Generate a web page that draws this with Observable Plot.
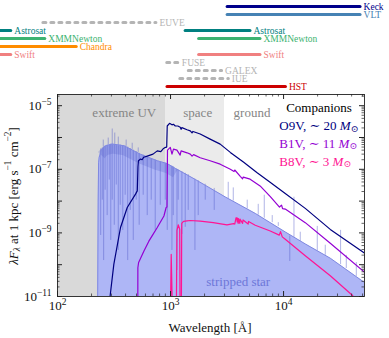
<!DOCTYPE html>
<html><head><meta charset="utf-8">
<script src="https://cdn.jsdelivr.net/npm/d3@7"></script>
<script src="https://cdn.jsdelivr.net/npm/@observablehq/plot@0.6"></script>
<style>
html,body{margin:0;padding:0;background:#fff;}
#chart{width:389px;height:338px;overflow:hidden;}
#chart svg{display:block;}
</style></head><body><div id="chart"></div>
<script>
// ---------------- DATA ----------------
// telescope coverage (top panel)
const instNames = ["Keck","VLT","EUVE","Astrosat","XMMNewton","Chandra","Swift","FUSE","GALEX","IUE","HST"];
const segInst = ["Keck","VLT","EUVE","Astrosat","Astrosat","XMMNewton","XMMNewton","Chandra","Swift","Swift","FUSE","GALEX","IUE","HST"];
const segLo   = [3200, 3200, 75, 1, 1360, 1, 1790, 1, 1, 1790, 935, 1450, 1220, 940];
const segHi   = [48000, 48000, 750, 39, 5100, 78, 6250, 148, 39, 6250, 1185, 2860, 3280, 10500];
const dashedInst = ["EUVE","FUSE","GALEX","IUE"];

// wavelength regions
const regionName = ["extreme UV","space","ground"];
const regionLo = [100, 912, 3000];
const regionHi = [912, 3000, 52000];
const regionLabelWave = [390, 1740, 5260];

// stripped star continuum (Å, erg s^-1 cm^-2)
const ssWave = [226, 229, 231, 234, 244, 264, 305, 389, 540, 763, 935, 1102, 1655, 3050, 5620, 10350, 15560, 25900, 52000];
const ssFlux = [1e-12, 1e-8, 1.6e-7, 2.4e-7, 4.0e-7, 5.4e-7, 6.2e-7, 5.5e-7, 3.0e-7, 1.86e-7, 1.51e-7, 1.07e-7, 4.8e-8, 1.35e-8, 4.1e-9, 1.07e-9, 4.5e-10, 1.6e-10, 2.75e-11];

// stripped star spectral lines: wavelength, continuum level, line tip
const lineWave = [241,249,256,264,275,287,296,305,318,331,345,359,378,397,418,440,468,497,528,573,622,675,732,811,
  898,935,1029,1057,1140,1170,1261,1349,1434,1644,1758,2028,2436,
  254,281,305,321,345,405,458,518,
  3240,3590,4770,5970,6750,7940,8980,12360,14050,19870,23390,31950,35880,44000,11350];
const lineFrom = [4.4e-7,4.7e-7,5.0e-7,5.4e-7,5.8e-7,6.0e-7,6.2e-7,6.2e-7,6.1e-7,6.0e-7,5.9e-7,5.8e-7,5.6e-7,5.4e-7,5.0e-7,4.5e-7,4.0e-7,3.6e-7,3.2e-7,2.8e-7,2.4e-7,2.15e-7,1.95e-7,1.7e-7,
  1.55e-7,1.5e-7,1.25e-7,1.2e-7,1.0e-7,9.5e-8,8.5e-8,7.5e-8,6.8e-8,4.9e-8,4.4e-8,3.4e-8,2.5e-8,
  5.0e-7,5.9e-7,6.2e-7,6.1e-7,5.9e-7,5.3e-7,4.2e-7,3.4e-7,
  1.2e-8,1.0e-8,5.7e-9,3.6e-9,2.9e-9,2.1e-9,1.6e-9,7.2e-10,5.4e-10,2.7e-10,1.96e-10,1.0e-10,7.6e-11,4.3e-11,8.0e-10];
const lineTo = [8.3e-10,1.07e-8,1.35e-10,2.2e-8,3.5e-9,4.6e-8,5.8e-10,1.07e-8,1.74e-9,3.2e-8,2.8e-10,7.4e-9,1.2e-9,1.53e-8,1.35e-10,5.1e-9,5.8e-10,1.07e-8,1.74e-9,1.53e-8,3.5e-9,1.07e-8,1.2e-9,7.4e-9,
  1.07e-8,1.2e-9,2.8e-10,3.5e-9,6.6e-11,1.07e-8,9.0e-10,1.5e-9,5.1e-9,2.8e-10,3.5e-9,1.07e-8,5.1e-9,
  8.3e-7,9.6e-7,1.85e-6,1.38e-6,1.03e-6,8.3e-7,6.6e-7,4.7e-7,
  3.9e-8,2.6e-8,1.07e-8,7.9e-9,1.53e-8,3.5e-9,2.1e-9,1.32e-8,1.05e-9,1.6e-9,4.1e-10,1.2e-9,1.96e-10,1.17e-10,1.26e-10];

// companions
const o9vWave = [289,291,315,361,414,490,508,515,520,544,560,580,622,700,763,820,860,903,925,935,980,1030,1060,1102,1160,1219,1240,1260,1400,1495,1550,1580,1830,2240,2750,3380,4440,5800,7600,10350,15560,25900,52000];
const o9vFlux = [5e-12,9.3e-12,1.02e-10,1.48e-9,6.3e-9,1.66e-8,2.1e-8,1.2e-7,1.86e-7,2.1e-7,2.0e-7,2.4e-7,2.6e-7,3.0e-7,3.8e-7,3.6e-7,4.4e-7,4.9e-7,5.0e-7,2.3e-6,2.8e-6,2.5e-6,2.6e-6,2.3e-6,2.3e-6,2.1e-6,1.8e-6,2.05e-6,1.75e-6,1.62e-6,1.4e-6,1.55e-6,1.29e-6,8.9e-7,6.2e-7,3.4e-7,1.66e-7,7.9e-8,3.9e-8,1.74e-8,5.9e-9,1.29e-9,2.3e-10];

const b1vWave = [510,513,514,522,582,643,700,763,874,914,930,940,995,1030,1062,1140,1216,1240,1400,1495,1550,1600,1830,2240,2750,3380,3646,3700,4140,4340,4400,5060,6200,7600,9200,9600,9800,10350,15560,25900,52000];
const b1vFlux = [1e-12,1e-12,8e-11,1.17e-10,2.7e-10,5.5e-10,9e-10,1.48e-9,3.4e-9,6.3e-9,6.5e-9,4.0e-7,4.9e-7,3.0e-7,4.3e-7,4.0e-7,2.8e-7,3.8e-7,3.3e-7,3.0e-7,2.6e-7,2.9e-7,2.3e-7,1.86e-7,1.45e-7,1.0e-7,8.5e-8,9.5e-8,6.0e-8,5.0e-8,5.7e-8,4.9e-8,3.0e-8,1.41e-8,6.5e-9,7.5e-9,5.8e-9,5.6e-9,2.1e-9,4.7e-10,5.8e-11];

const b8vWave = [994,1014,1046,1123,1140,1170,1206,1216,1245,1256,1303,1400,1495,1830,2388,3156,3610,3700,3800,3850,3890,3920,3970,4000,4101,4130,4340,4380,4861,4900,5617,7626,9160,9400,9740,10350,15560,25900,40550,46000];
const b8vFlux = [1e-12,2.1e-10,1e-12,1e-12,1.2e-9,1.8e-9,1.3e-9,1e-12,1e-12,2.0e-9,2.3e-9,2.4e-9,2.45e-9,2.35e-9,2.1e-9,1.78e-9,1.95e-9,1.9e-9,3.0e-9,3.0e-9,2.2e-9,2.9e-9,2.0e-9,2.8e-9,2.0e-9,2.7e-9,2.0e-9,2.55e-9,1.9e-9,2.3e-9,1.74e-9,1.15e-9,8.5e-10,1.1e-9,7.5e-10,6.3e-10,1.9e-10,4.5e-11,1.1e-11,6e-12];

const companionNames = ["O9V","B1V","B8V"];
const companionMass = ["20","11","3"];
const labelStripped = {text: "stripped star", wave: 3970, flux: 2.8e-11};

// axis ticks and labels
const xTickValues = [100, 1000, 10000];
const xTickExp = ["2","3","4"];
const yTickValues = [1e-11, 1e-9, 1e-7, 1e-5];
const yTickExp = ["−11","−9","−7","−5"];

// ---------------- STYLE / LAYOUT ----------------
const W = 389, TOPH = 94, MAINH = 244;
const ML = 57, MR = 25, MB = 42, MT = 0;
const FH = MAINH - MT - MB, FW = W - ML - MR;
const xDomain = [100, 52000];
const yDomain = [1e-11, 2.25e-5];
const SERIF = "Liberation Serif, DejaVu Serif, serif";
const instColor = {Keck:"#00008b", VLT:"#4682b4", EUVE:"#b4b4b4", Astrosat:"#008080", XMMNewton:"#3cb371",
  Chandra:"#ff8c00", Swift:"#f08080", FUSE:"#b4b4b4", GALEX:"#b4b4b4", IUE:"#b4b4b4", HST:"#cc0000"};
const regionFill = {"extreme UV":"#d9d9d9", "space":"#ebebeb", "ground":"none"};
const compColor = {O9V:"#000080", B1V:"#9400d3", B8V:"#ff1493"};

// ---------------- BUILD TABLES ----------------
const segs = segInst.map((s,i)=>({inst:s, lo:segLo[i], hi:segHi[i]}));
const regions = regionName.map((n,i)=>({name:n, lo:regionLo[i], hi:regionHi[i], lab:regionLabelWave[i]}));
const stripped = ssWave.map((w,i)=>({wave:w, flux:ssFlux[i]}));
const lines = lineWave.map((w,i)=>({wave:w, from:lineFrom[i], to:lineTo[i]}));
const mk = (W_,F_)=>W_.map((w,i)=>({wave:w, flux:F_[i]}));
const o9v = mk(o9vWave,o9vFlux), b1v = mk(b1vWave,b1vFlux), b8v = mk(b8vWave,b8vFlux);

const xMinor = [];
for (const d of [100,1000,10000]) for (let k=2;k<=9;k++) if (k*d < xDomain[1]) xMinor.push(k*d);
const yMajor = [], yMinor = [];
for (let e=-11;e<=-5;e++){ yMajor.push(Math.pow(10,e)); for(let k=2;k<=9;k++){const v=k*Math.pow(10,e); if(v<yDomain[1]) yMinor.push(v);} }

// ---------------- TOP PANEL ----------------
const topPlot = Plot.plot({
  width: W, height: TOPH, marginLeft: ML, marginRight: MR, marginTop: 0, marginBottom: 0,
  x: {type:"log", domain: xDomain, axis: null},
  y: {type:"point", domain: instNames, range:[5.3, 86.7], padding: 0, axis: null},
  color: {type:"identity"},
  style: {fontFamily: SERIF, fontSize: "9.5px", background: "white"},
  marks: [
    Plot.ruleY(segs.filter(d=>!dashedInst.includes(d.inst)), {y:"inst", x1:"lo", x2:"hi", stroke:d=>instColor[d.inst], strokeWidth:3, strokeLinecap:"round"}),
    Plot.ruleY(segs.filter(d=>dashedInst.includes(d.inst)), {y:"inst", x1:"lo", x2:"hi", stroke:d=>instColor[d.inst], strokeWidth:3, strokeLinecap:"round", strokeDasharray:"3,5"}),
    Plot.text(segs, {x:"hi", y:"inst", text:"inst", dx:3, textAnchor:"start", fill:d=>instColor[d.inst], fontFamily: SERIF, fontSize: 9.5})
  ]
});

// ---------------- MAIN PANEL ----------------
const tickStroke = "#222";
const mainPlot = Plot.plot({
  width: W, height: MAINH, marginLeft: ML, marginRight: MR, marginTop: MT, marginBottom: MB,
  x: {type:"log", domain: xDomain, label: null},
  y: {type:"log", domain: yDomain, label: null},
  color: {type:"identity"},
  style: {fontFamily: SERIF, fontSize: "13px", background: "white", color: "#111"},
  marks: [
    Plot.rect(regions.filter(d=>regionFill[d.name]!=="none"), {x1:"lo", x2:"hi", fill:d=>regionFill[d.name]}),
    Plot.areaY(stripped, {x:"wave", y1: yDomain[0], y2:"flux", fill:"#aeb6f6", clip:true}),
    // dense-line darkening just under the EUV/FUV continuum
    Plot.line(stripped.filter(d=>d.wave>=244 && d.wave<=1102), {x:"wave", y:"flux", dy:5, stroke:"#5a63cc", strokeOpacity:0.28, strokeWidth:9, strokeLinecap:"butt", clip:true}),
    Plot.ruleX(lines, {x:"wave", y1:"from", y2:"to", stroke:"#4c56c6", strokeOpacity:0.55, strokeWidth:0.8, clip:true}),
    Plot.line(stripped, {x:"wave", y:"flux", stroke:"#7f88e0", strokeWidth:1, clip:true}),
    Plot.line(b8v, {x:"wave", y:"flux", stroke:compColor.B8V, strokeWidth:1.2, clip:true}),
    Plot.line(b1v, {x:"wave", y:"flux", stroke:compColor.B1V, strokeWidth:1.2, clip:true}),
    Plot.line(o9v, {x:"wave", y:"flux", stroke:compColor.O9V, strokeWidth:1.2, clip:true}),
    Plot.text(regions, {x:"lab", frameAnchor:"top", dy:13, text:"name", fill:"#858585", fontSize:13, fontFamily: SERIF}),
    Plot.text([labelStripped], {x:"wave", y:"flux", text:"text", fill:"#6d76d8", fontSize:13, fontFamily: SERIF}),
    // inward ticks
    Plot.tickX(xTickValues, {x:d=>d, stroke:tickStroke, insetTop:FH-5}),
    Plot.tickX(xTickValues, {x:d=>d, stroke:tickStroke, insetBottom:FH-5}),
    Plot.tickX(xMinor, {x:d=>d, stroke:tickStroke, strokeWidth:0.7, insetTop:FH-2.5}),
    Plot.tickX(xMinor, {x:d=>d, stroke:tickStroke, strokeWidth:0.7, insetBottom:FH-2.5}),
    Plot.tickY(yMajor, {y:d=>d, stroke:tickStroke, insetRight:FW-5}),
    Plot.tickY(yMajor, {y:d=>d, stroke:tickStroke, insetLeft:FW-5}),
    Plot.tickY(yMinor, {y:d=>d, stroke:tickStroke, strokeWidth:0.7, insetRight:FW-2.5}),
    Plot.tickY(yMinor, {y:d=>d, stroke:tickStroke, strokeWidth:0.7, insetLeft:FW-2.5}),
    Plot.axisX({anchor:"bottom", ticks:xTickValues, tickSize:0, tickPadding:4, tickFormat:d=>"10^"+xTickExp[xTickValues.indexOf(d)], fontSize:13, fontFamily: SERIF, label:null}),
    Plot.axisY({anchor:"left", ticks:yTickValues, tickSize:0, tickPadding:6, tickFormat:d=>"10^"+yTickExp[yTickValues.indexOf(d)], fontSize:13, fontFamily: SERIF, label:null}),
    Plot.frame({stroke:"#222", strokeWidth:0.9})
  ]
});

// superscript tick labels
d3.select(mainPlot).selectAll("text").each(function(){
  const t = this.textContent; const m = /^10\^(.+)$/.exec(t);
  if (!m) return;
  const sel = d3.select(this); sel.text("10");
  sel.append("tspan").attr("dy","-5").attr("font-size","9.5px").text(m[1]);
});

// rich text helper: parts [{t, sup, sub, it}]
function rich(g, x, y, parts, opts) {
  const t = g.append("text").attr("x", x).attr("y", y)
    .attr("font-size", opts.size+"px")
    .attr("fill", opts.fill || "#111").attr("text-anchor", opts.anchor || "start")
    .attr("dominant-baseline", "central")
    .style("font-family", SERIF);
  if (opts.transform) t.attr("transform", opts.transform).attr("x", 0).attr("y", 0);
  let shift = 0;
  for (const p of parts) {
    const s = t.append("tspan").text(p.t);
    let target = 0;
    if (p.sup) target = -opts.size*0.42;
    if (p.sub) target = opts.size*0.28;
    if (target !== shift) { s.attr("dy", target - shift); shift = target; }
    if (p.sup || p.sub) s.attr("font-size", (opts.size*0.72)+"px");
    if (p.it) s.attr("font-style", "italic");
  }
  return t;
}
const ms = d3.select(mainPlot);
rich(ms, 0, 0, [{t:"λ",it:true},{t:"F",it:true},{t:"λ",it:true,sub:true},{t:" at 1 kpc [erg s"},{t:"−1",sup:true},{t:" cm"},{t:"−2",sup:true},{t:"]"}],
  {size:13, anchor:"middle", transform:"translate(13,102) rotate(-90)"});
rich(ms, 210, 232.5, [{t:"Wavelength [Å]"}], {size:13, anchor:"middle"});
rich(ms, 319, 13.3, [{t:"Companions"}], {size:13, anchor:"middle", fill:"#000"});
companionNames.forEach((n,i)=>{
  rich(ms, 279.3, 31 + i*17.85, [{t:n+", ∼ "+companionMass[i]+" "},{t:"M",it:true},{t:"⊙",sub:true}], {size:13, fill:compColor[n]});
});

const c = document.getElementById("chart");
c.appendChild(topPlot);
c.appendChild(mainPlot);
</script></body></html>
